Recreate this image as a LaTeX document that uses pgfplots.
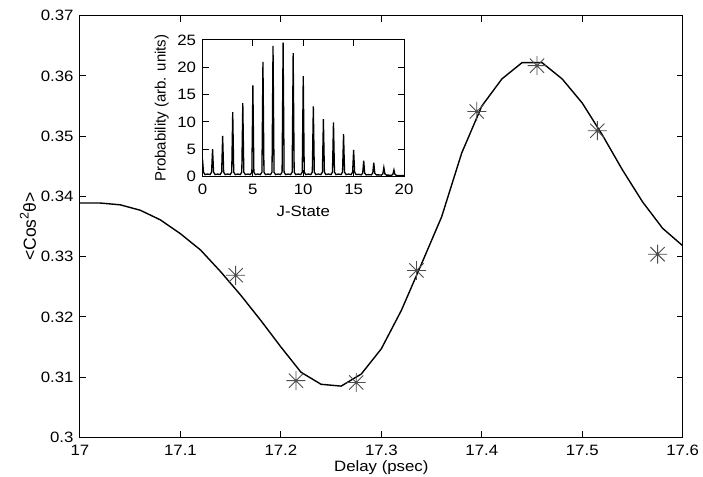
\documentclass[border=0pt]{standalone}
\usepackage{fontspec}
\setmainfont{Liberation Sans}[FakeStretch=1.12]
\newfontfamily\rotfont{Liberation Sans}
\usepackage{pgfplots}
\pgfplotsset{compat=1.18}

\pgfdeclareplotmark{ast8}{%
  \pgfpathmoveto{\pgfqpoint{-\pgfplotmarksize}{0pt}}%
  \pgfpathlineto{\pgfqpoint{\pgfplotmarksize}{0pt}}%
  \pgfpathmoveto{\pgfqpoint{0pt}{-\pgfplotmarksize}}%
  \pgfpathlineto{\pgfqpoint{0pt}{\pgfplotmarksize}}%
  \pgfpathmoveto{\pgfqpoint{-0.75\pgfplotmarksize}{-0.75\pgfplotmarksize}}%
  \pgfpathlineto{\pgfqpoint{0.75\pgfplotmarksize}{0.75\pgfplotmarksize}}%
  \pgfpathmoveto{\pgfqpoint{-0.75\pgfplotmarksize}{0.75\pgfplotmarksize}}%
  \pgfpathlineto{\pgfqpoint{0.75\pgfplotmarksize}{-0.75\pgfplotmarksize}}%
  \pgfusepathqstroke}

\pgfplotstableread{
x y
17.00 0.3389
17.02 0.3389
17.04 0.3386
17.06 0.3377
17.08 0.3361
17.10 0.3338
17.12 0.3311
17.14 0.3275
17.16 0.3236
17.18 0.3194
17.20 0.3150
17.22 0.3108
17.24 0.3088
17.26 0.3085
17.28 0.3105
17.30 0.3147
17.32 0.3211
17.34 0.3288
17.36 0.3366
17.38 0.3472
17.40 0.3550
17.42 0.3595
17.44 0.3622
17.46 0.3622
17.48 0.3595
17.50 0.3555
17.52 0.3502
17.54 0.3444
17.56 0.3391
17.58 0.3347
17.60 0.3318
}\curve

\pgfplotstableread{
x y
17.155 0.3269
17.215 0.3094
17.275 0.3091
17.335 0.3277
17.395 0.3541
17.455 0.3617
17.515 0.3509
17.575 0.3304
}\stars

\begin{document}
\begin{tikzpicture}[font=\fontsize{15bp}{18bp}\selectfont]
\path[use as bounding box] (-80bp,-39.7bp) rectangle (623bp,437.3bp);
\begin{axis}[
  at={(0,0)}, anchor=south west,
  scale only axis, width=602.7bp, height=421.6bp,
  xmin=17, xmax=17.6, ymin=0.3, ymax=0.37,
  xtick={17,17.1,17.2,17.3,17.4,17.5,17.6},
  xticklabels={17,17.1,17.2,17.3,17.4,17.5,17.6},
  ytick={0.3,0.31,0.32,0.33,0.34,0.35,0.36,0.37},
  yticklabels={0.3,0.31,0.32,0.33,0.34,0.35,0.36,0.37},
  tick align=inside, major tick length=6bp,
  axis line style={line width=1bp},
  tick style={line width=1bp, black},
  xticklabel style={yshift=-4bp},
  yticklabel style={xshift=-3bp},
  xlabel={Delay (psec)},
  xlabel style={at={(axis description cs:0.5,-0.0723)}, anchor=center},
  ylabel={\rotfont\fontsize{17.5bp}{20bp}\selectfont <Cos\raisebox{0.42em}{\fontsize{12.5bp}{14bp}\selectfont 2}θ>},
  ylabel style={at={(axis description cs:-0.0863,0.5)}, anchor=center},
]
\addplot[black, line width=1.4bp, mark=none] table[x=x,y=y]{\curve};
\addplot[only marks, mark=ast8, mark size=9.5bp, mark options={black!70, line width=0.9bp}] table[x=x,y=y]{\stars};
\end{axis}
\begin{axis}[
  at={(122.5bp,260.8bp)}, anchor=south west,
  scale only axis, width=201.5bp, height=136.5bp,
  xmin=0, xmax=20, ymin=0, ymax=25,
  xtick={0,5,10,15,20}, ytick={0,5,10,15,20,25},
  tick align=inside, major tick length=6bp,
  axis line style={line width=1bp},
  tick style={line width=1bp, black},
  axis background/.style={fill=white},
  /pgf/number format/assume math mode=true,
  xticklabel style={yshift=-4bp},
  yticklabel style={xshift=-3bp},
  xlabel={J-State},
  xlabel style={at={(axis description cs:0.5,-0.253)}, anchor=center},
  ylabel={\rotfont Probability (arb. units)},
  ylabel style={at={(axis description cs:-0.2025,0.5)}, anchor=center},
]
\addplot[black, line width=1.3bp, mark=none] coordinates {
(0,3.2) (0.1,0.8) (0.25,0.35) (0.5,0.45)
(0.75,0.35) (0.9,0.8) (1,5.0) (1.1,0.8) (1.25,0.35) (1.5,0.45)
(1.75,0.35) (1.9,0.8) (2,7.45) (2.1,0.8) (2.25,0.35) (2.5,0.45)
(2.75,0.35) (2.9,0.8) (3,11.8) (3.1,0.8) (3.25,0.35) (3.5,0.45)
(3.75,0.35) (3.9,0.8) (4,13.45) (4.1,0.8) (4.25,0.35) (4.5,0.45)
(4.75,0.35) (4.9,0.8) (5,16.7) (5.1,0.8) (5.25,0.35) (5.5,0.45)
(5.75,0.35) (5.9,0.8) (6,21.0) (6.1,0.8) (6.25,0.35) (6.5,0.45)
(6.75,0.35) (6.9,0.8) (7,23.9) (7.1,0.8) (7.25,0.35) (7.5,0.45)
(7.75,0.35) (7.9,0.8) (8,24.5) (8.1,0.8) (8.25,0.35) (8.5,0.45)
(8.75,0.35) (8.9,0.8) (9,22.6) (9.1,0.8) (9.25,0.35) (9.5,0.45)
(9.75,0.35) (9.9,0.8) (10,18.4) (10.1,0.8) (10.25,0.35) (10.5,0.45)
(10.75,0.35) (10.9,0.8) (11,12.85) (11.1,0.8) (11.25,0.35) (11.5,0.45)
(11.75,0.35) (11.9,0.8) (12,10.5) (12.1,0.8) (12.25,0.35) (12.5,0.45)
(12.75,0.35) (12.9,0.8) (13,9.9) (13.1,0.8) (13.25,0.35) (13.5,0.45)
(13.75,0.35) (13.9,0.8) (14,7.75) (14.1,0.8) (14.25,0.35) (14.5,0.45)
(14.75,0.35) (14.9,0.8) (15,4.85) (15.1,0.8) (15.25,0.35) (15.5,0.4)
(15.75,0.3) (15.9,0.6) (16,2.9) (16.1,0.6) (16.25,0.3) (16.5,0.35)
(16.75,0.3) (16.9,0.6) (17,2.55) (17.1,0.6) (17.25,0.3) (17.5,0.3)
(17.75,0.25) (17.9,0.5) (18,1.65) (18.1,0.5) (18.25,0.25) (18.5,0.25)
(18.75,0.2) (18.9,0.4) (19,1.2) (19.1,0.4) (19.25,0.2) (19.5,0.2)
(20,0.15)
};
\end{axis}
\end{tikzpicture}
\end{document}
